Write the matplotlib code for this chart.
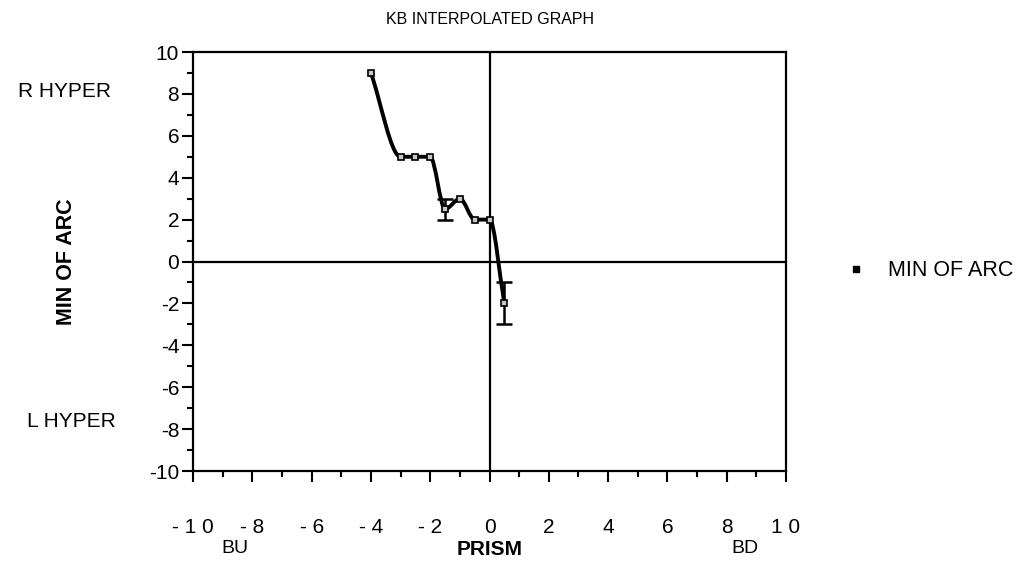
import numpy as np
import matplotlib
matplotlib.use("Agg")
import matplotlib.pyplot as plt
from matplotlib.path import Path
from matplotlib.patches import PathPatch
from matplotlib.lines import Line2D
from matplotlib.ticker import MultipleLocator

plt.rcParams['font.family'] = ['Liberation Sans', 'DejaVu Sans']
plt.rcParams['axes.unicode_minus'] = False

# prism (x) vs min of arc (y) readings
prism = [-4.0, -3.0, -2.5, -2.0, -1.5, -1.0, -0.5, 0.0, 0.5]
min_arc = [9.0, 5.0, 5.0, 5.0, 2.5, 3.0, 2.0, 2.0, -2.0]
err_x = [-1.5, 0.5]
err_y = [2.5, -2.0]
err_size = [0.5, 1.0]

x_ticks = [-10, -8, -6, -4, -2, 0, 2, 4, 6, 8, 10]
x_tick_labels = ['- 1 0', '- 8', '- 6', '- 4', '- 2', '0', '2', '4', '6', '8', '1 0']
y_ticks = [-10, -8, -6, -4, -2, 0, 2, 4, 6, 8, 10]


def smooth_path(xs, ys):
    # monotone cubic tangents (Fritsch-Carlson), drawn as Bezier segments
    xs = np.asarray(xs, float)
    ys = np.asarray(ys, float)
    h = np.diff(xs)
    d = np.diff(ys) / h
    m = np.zeros_like(ys)
    m[0], m[-1] = d[0], d[-1]
    for i in range(1, len(xs) - 1):
        if d[i - 1] * d[i] > 0:
            w1 = 2 * h[i] + h[i - 1]
            w2 = h[i] + 2 * h[i - 1]
            m[i] = (w1 + w2) / (w1 / d[i - 1] + w2 / d[i])
    verts = [(xs[0], ys[0])]
    codes = [Path.MOVETO]
    for i in range(len(xs) - 1):
        verts += [(xs[i] + h[i] / 3, ys[i] + m[i] * h[i] / 3),
                  (xs[i + 1] - h[i] / 3, ys[i + 1] - m[i + 1] * h[i] / 3),
                  (xs[i + 1], ys[i + 1])]
        codes += [Path.CURVE4] * 3
    return Path(verts, codes)


fig = plt.figure(figsize=(10.34, 5.61), dpi=100)
ax = fig.add_axes([0.1867, 0.1604, 0.5735, 0.7469])

ax.axhline(0, color='black', lw=1.6, zorder=1)
ax.axvline(0, color='black', lw=1.6, zorder=1)

ax.add_patch(PathPatch(smooth_path(prism, min_arc), facecolor='none',
                       edgecolor='black', lw=2.8, zorder=3))
ax.errorbar(err_x, err_y, yerr=err_size, fmt='none', ecolor='black',
            elinewidth=1.8, capsize=6, capthick=1.8, zorder=3)
ax.plot(prism, min_arc, ls='none', marker='s', markersize=5,
        markerfacecolor='#c8c8c8', markeredgecolor='black',
        markeredgewidth=1.2, zorder=4)

ax.set_xlim(-10, 10)
ax.set_ylim(-10, 10)
ax.set_xticks(x_ticks)
ax.set_xticklabels(x_tick_labels)
ax.set_yticks(y_ticks)
ax.xaxis.set_minor_locator(MultipleLocator(1))
ax.yaxis.set_minor_locator(MultipleLocator(1))
ax.tick_params(which='major', direction='out', length=8, width=1.5,
               labelsize=15, top=False, right=False)
ax.tick_params(which='minor', direction='out', length=4, width=1.5,
               top=False, right=False)
ax.tick_params(axis='x', which='major', pad=26)
ax.tick_params(axis='y', which='major', pad=2)
for s in ax.spines.values():
    s.set_linewidth(1.6)

ax.set_title('KB INTERPOLATED GRAPH', fontsize=11.5, pad=20)
ax.set_ylabel('MIN OF ARC', fontsize=15.5, fontweight='bold', labelpad=52)
ax.text(0.5, -0.187, 'PRISM', transform=ax.transAxes, ha='center',
        va='center', fontsize=15, fontweight='bold')
ax.text(0.07, -0.185, 'BU', transform=ax.transAxes, ha='center',
        va='center', fontsize=14)
ax.text(0.93, -0.185, 'BD', transform=ax.transAxes, ha='center',
        va='center', fontsize=14)
ax.text(-0.138, 0.905, 'R HYPER', transform=ax.transAxes, ha='right',
        va='center', fontsize=15)
ax.text(-0.13, 0.117, 'L HYPER', transform=ax.transAxes, ha='right',
        va='center', fontsize=15)

handle = Line2D([], [], ls='none', marker='s', markersize=5,
                markerfacecolor='black', markeredgecolor='black')
ax.legend([handle], ['MIN OF ARC'], loc='center left',
          bbox_to_anchor=(1.067, 0.478), frameon=False, fontsize=15.5,
          handlelength=1.0, handletextpad=1.0)

fig.savefig('out.png', dpi=100)
